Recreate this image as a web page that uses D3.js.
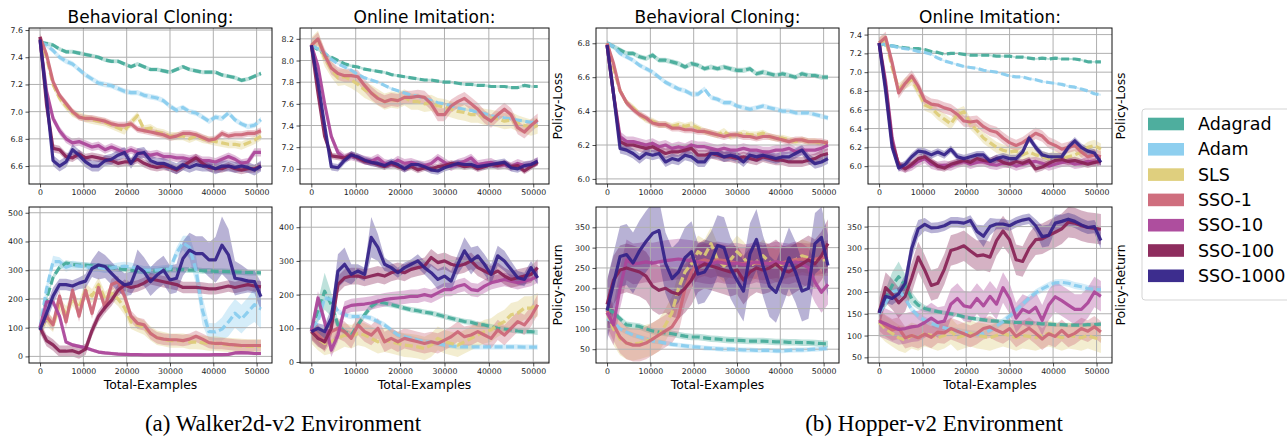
<!DOCTYPE html>
<html>
<head>
<meta charset="utf-8">
<script src="https://cdn.jsdelivr.net/npm/d3@7"></script>
<style>
  body { margin: 0; background: #fff; }
  svg { display: block; font-family: "DejaVu Sans", sans-serif; }
</style>
</head>
<body>
<svg id="chart" width="1287" height="437"></svg>
<script>
// ---- shared categories ----
const examples = [0, 1500, 3000, 4500, 6000, 7500, 9000, 10500, 12000, 13500, 15000, 16500, 18000, 19500, 21000, 22500, 24000, 25500, 27000, 28500, 30000, 31500, 33000, 34500, 36000, 37500, 39000, 40500, 42000, 43500, 45000, 46500, 48000, 49500, 51000];
const methods = ["Adagrad", "Adam", "SLS", "SSO-1", "SSO-10", "SSO-100", "SSO-1000"];
const methodColors = ["#44AA99", "#88CCEE", "#DDCC77", "#CC6677", "#AA4499", "#882255", "#332288"];
const methodDashed = [true, true, true, false, false, false, false];

const xTicks = [0, 10000, 20000, 30000, 40000, 50000];

// ---- Walker2d: behavioral cloning, policy loss (order follows `methods`) ----
const walkerBcLoss = [
  [7.51, 7.50, 7.49, 7.46, 7.44, 7.44, 7.43, 7.42, 7.41, 7.40, 7.38, 7.37, 7.37, 7.35, 7.33, 7.35, 7.33, 7.31, 7.31, 7.30, 7.29, 7.31, 7.33, 7.31, 7.30, 7.29, 7.29, 7.29, 7.27, 7.26, 7.25, 7.23, 7.24, 7.26, 7.28],
  [7.51, 7.49, 7.45, 7.40, 7.37, 7.35, 7.31, 7.27, 7.24, 7.21, 7.20, 7.19, 7.17, 7.15, 7.14, 7.14, 7.12, 7.11, 7.10, 7.08, 7.04, 7.01, 7.03, 7.00, 6.99, 6.96, 6.93, 6.96, 6.95, 6.99, 6.94, 6.91, 6.89, 6.90, 6.94],
  [7.53, 7.40, 7.20, 7.10, 7.04, 6.99, 6.97, 6.95, 6.94, 6.93, 6.92, 6.90, 6.88, 6.86, 6.92, 6.97, 6.87, 6.88, 6.85, 6.84, 6.82, 6.82, 6.82, 6.80, 6.82, 6.80, 6.79, 6.78, 6.77, 6.76, 6.76, 6.75, 6.77, 6.79, 6.82],
  [7.55, 7.42, 7.22, 7.12, 7.06, 7.00, 6.96, 6.95, 6.95, 6.94, 6.93, 6.91, 6.90, 6.90, 6.91, 6.87, 6.86, 6.85, 6.84, 6.83, 6.81, 6.82, 6.84, 6.84, 6.83, 6.81, 6.79, 6.80, 6.84, 6.82, 6.83, 6.83, 6.84, 6.84, 6.86],
  [7.52, 7.15, 6.95, 6.86, 6.80, 6.77, 6.78, 6.76, 6.74, 6.75, 6.72, 6.74, 6.72, 6.70, 6.72, 6.70, 6.69, 6.68, 6.69, 6.67, 6.67, 6.66, 6.66, 6.65, 6.66, 6.64, 6.64, 6.63, 6.65, 6.67, 6.65, 6.62, 6.63, 6.70, 6.70],
  [7.55, 7.05, 6.73, 6.72, 6.67, 6.66, 6.69, 6.66, 6.67, 6.66, 6.65, 6.64, 6.62, 6.63, 6.63, 6.65, 6.62, 6.60, 6.59, 6.60, 6.59, 6.57, 6.60, 6.63, 6.66, 6.62, 6.59, 6.58, 6.58, 6.60, 6.58, 6.57, 6.58, 6.58, 6.60],
  [7.53, 7.10, 6.64, 6.60, 6.63, 6.72, 6.68, 6.63, 6.60, 6.60, 6.64, 6.65, 6.68, 6.70, 6.62, 6.69, 6.70, 6.64, 6.62, 6.62, 6.60, 6.58, 6.61, 6.59, 6.61, 6.60, 6.60, 6.58, 6.60, 6.60, 6.59, 6.60, 6.59, 6.57, 6.60]
];
const walkerBcLossSpread = [0.015, 0.02, 0.03, 0.025, 0.03, 0.03, 0.04];
const walkerBcLossTicks = [6.6, 6.8, 7.0, 7.2, 7.4, 7.6];

// ---- Walker2d: online imitation, policy loss ----
const walkerOnlineLoss = [
  [8.14, 8.10, 8.06, 8.03, 8.00, 7.97, 7.95, 7.94, 7.92, 7.91, 7.90, 7.89, 7.87, 7.86, 7.85, 7.84, 7.83, 7.82, 7.82, 7.81, 7.80, 7.80, 7.79, 7.78, 7.78, 7.77, 7.77, 7.76, 7.76, 7.76, 7.75, 7.75, 7.77, 7.76, 7.76],
  [8.14, 8.11, 8.07, 8.01, 7.97, 7.94, 7.91, 7.87, 7.84, 7.82, 7.80, 7.77, 7.74, 7.72, 7.70, 7.68, 7.67, 7.65, 7.63, 7.61, 7.60, 7.58, 7.56, 7.55, 7.54, 7.52, 7.51, 7.49, 7.48, 7.47, 7.46, 7.45, 7.44, 7.43, 7.43],
  [8.14, 8.20, 8.02, 7.92, 7.84, 7.85, 7.82, 7.78, 7.73, 7.70, 7.66, 7.62, 7.64, 7.63, 7.66, 7.62, 7.62, 7.60, 7.61, 7.58, 7.57, 7.55, 7.53, 7.52, 7.50, 7.50, 7.48, 7.47, 7.46, 7.44, 7.45, 7.42, 7.40, 7.38, 7.40],
  [8.14, 8.20, 8.05, 7.93, 7.88, 7.86, 7.86, 7.85, 7.77, 7.70, 7.65, 7.62, 7.64, 7.63, 7.66, 7.66, 7.67, 7.66, 7.60, 7.50, 7.50, 7.58, 7.62, 7.65, 7.60, 7.55, 7.48, 7.44, 7.50, 7.55, 7.50, 7.38, 7.34, 7.40, 7.45],
  [8.14, 7.95, 7.60, 7.30, 7.15, 7.10, 7.12, 7.10, 7.08, 7.07, 7.10, 7.05, 7.04, 7.08, 7.05, 7.06, 7.04, 7.03, 7.05, 7.10, 7.06, 7.02, 7.05, 7.07, 7.10, 7.04, 7.05, 7.06, 7.03, 7.04, 7.02, 7.05, 7.03, 7.04, 7.07],
  [8.14, 7.70, 7.30, 7.12, 7.11, 7.10, 7.13, 7.10, 7.07, 7.06, 7.04, 7.02, 7.05, 7.02, 7.00, 7.02, 6.99, 7.01, 7.00, 7.02, 7.03, 7.05, 7.04, 7.02, 7.03, 7.00, 7.02, 7.04, 7.03, 7.05, 7.02, 7.03, 6.98, 7.02, 7.06],
  [8.14, 7.80, 7.40, 7.02, 7.01, 7.08, 7.13, 7.11, 7.08, 7.06, 7.05, 7.03, 7.06, 7.04, 7.00, 7.04, 7.04, 7.02, 6.99, 6.98, 7.01, 7.03, 7.05, 7.04, 7.04, 7.02, 7.03, 7.04, 7.05, 7.06, 7.01, 7.00, 7.03, 7.04, 7.07]
];
const walkerOnlineLossSpread = [0.012, 0.012, 0.075, 0.06, 0.04, 0.03, 0.035];
const walkerOnlineLossTicks = [7.0, 7.2, 7.4, 7.6, 7.8, 8.0, 8.2];

// ---- Walker2d: behavioral cloning, policy return ----
const walkerBcReturn = [
  [95, 200, 275, 310, 325, 320, 318, 318, 315, 313, 312, 310, 305, 303, 300, 298, 297, 296, 298, 302, 302, 302, 302, 300, 300, 298, 298, 296, 296, 295, 294, 293, 292, 292, 291],
  [100, 235, 330, 330, 310, 318, 315, 312, 310, 310, 305, 308, 312, 314, 312, 305, 300, 300, 300, 302, 305, 360, 395, 380, 300, 160, 86, 85, 95, 120, 150, 130, 155, 180, 165],
  [95, 130, 110, 180, 150, 200, 170, 230, 210, 250, 200, 220, 200, 170, 120, 110, 100, 80, 65, 60, 55, 55, 55, 50, 50, 48, 45, 45, 42, 40, 38, 36, 35, 35, 35],
  [100, 140, 110, 210, 120, 230, 140, 230, 150, 240, 170, 250, 260, 210, 140, 115, 110, 80, 65, 60, 58, 58, 55, 60, 70, 60, 48, 45, 45, 42, 40, 38, 38, 38, 38],
  [100, 190, 190, 140, 50, 40, 35, 30, 22, 15, 12, 10, 8, 7, 6, 6, 5, 5, 5, 5, 5, 5, 5, 5, 5, 5, 5, 6, 6, 7, 12, 13, 12, 10, 10],
  [100, 55, 40, 18, 18, 20, 12, 25, 90, 140, 170, 195, 230, 248, 240, 245, 255, 270, 265, 260, 255, 250, 240, 240, 240, 238, 235, 235, 240, 245, 240, 245, 250, 245, 242],
  [92, 150, 210, 250, 250, 245, 255, 262, 306, 318, 313, 289, 266, 249, 254, 312, 295, 260, 283, 300, 266, 272, 341, 370, 358, 358, 336, 336, 387, 353, 272, 268, 262, 260, 208]
];
const walkerBcReturnSpread = [
  10,
  [10, 20, 20, 15, 15, 15, 15, 15, 15, 15, 15, 15, 15, 15, 15, 15, 15, 15, 15, 15, 15, 20, 25, 40, 50, 50, 30, 30, 40, 50, 50, 50, 50, 60, 70],
  25, 20, 6, 20,
  [20, 30, 30, 20, 20, 20, 20, 25, 30, 50, 40, 40, 40, 40, 40, 60, 50, 50, 50, 50, 50, 50, 60, 60, 60, 60, 60, 80, 100, 90, 60, 50, 40, 40, 50]
];
const walkerBcReturnTicks = [0, 100, 200, 300, 400, 500];

// ---- Walker2d: online imitation, policy return ----
const walkerOnlineReturn = [
  [100, 150, 210, 170, 110, 90, 80, 110, 140, 165, 178, 175, 170, 165, 160, 155, 152, 148, 145, 140, 135, 130, 125, 120, 118, 112, 110, 105, 100, 98, 95, 92, 90, 90, 88],
  [100, 120, 190, 185, 150, 140, 135, 135, 135, 130, 120, 110, 95, 80, 75, 70, 65, 60, 58, 55, 50, 48, 45, 45, 45, 45, 45, 45, 45, 45, 45, 45, 44, 44, 44],
  [90, 70, 55, 60, 70, 80, 75, 85, 80, 70, 60, 65, 60, 55, 50, 48, 45, 40, 50, 70, 60, 55, 50, 60, 70, 80, 90, 95, 110, 120, 140, 145, 160, 160, 170],
  [100, 80, 60, 90, 100, 90, 70, 110, 90, 80, 100, 60, 70, 60, 70, 65, 60, 55, 60, 55, 65, 75, 90, 75, 80, 90, 80, 70, 95, 80, 100, 120, 110, 135, 170],
  [90, 190, 120, 35, 80, 160, 168, 170, 172, 175, 180, 185, 188, 190, 192, 195, 195, 200, 195, 205, 215, 215, 225, 230, 215, 212, 225, 235, 240, 245, 240, 235, 240, 245, 255],
  [90, 70, 60, 100, 230, 250, 255, 255, 250, 255, 260, 255, 265, 270, 265, 275, 280, 285, 310, 295, 300, 290, 285, 290, 300, 280, 270, 260, 270, 255, 245, 250, 255, 260, 280],
  [90, 100, 90, 130, 270, 290, 260, 270, 260, 370, 340, 290, 280, 265, 280, 290, 300, 280, 265, 245, 255, 240, 290, 330, 300, 315, 290, 260, 315, 300, 275, 250, 245, 280, 250]
];
const walkerOnlineReturnSpread = [
  [5, 30, 55, 35, 15, 10, 10, 10, 10, 10, 10, 10, 8, 8, 8, 8, 8, 8, 8, 8, 8, 8, 8, 8, 8, 8, 8, 8, 8, 8, 8, 8, 8, 8, 8],
  8, 35, 30, 20, 25,
  [10, 15, 20, 30, 50, 50, 30, 20, 20, 60, 40, 20, 15, 15, 15, 15, 20, 20, 25, 30, 30, 30, 30, 40, 40, 30, 30, 30, 30, 30, 25, 20, 20, 20, 20]
];
const walkerOnlineReturnTicks = [0, 100, 200, 300, 400];

// ---- Hopper: behavioral cloning, policy loss ----
const hopperBcLoss = [
  [6.80, 6.78, 6.76, 6.74, 6.74, 6.72, 6.71, 6.73, 6.70, 6.70, 6.69, 6.68, 6.66, 6.68, 6.67, 6.65, 6.66, 6.65, 6.66, 6.65, 6.64, 6.64, 6.65, 6.62, 6.63, 6.62, 6.61, 6.62, 6.61, 6.60, 6.62, 6.61, 6.61, 6.60, 6.60],
  [6.80, 6.78, 6.74, 6.72, 6.70, 6.67, 6.65, 6.63, 6.60, 6.57, 6.55, 6.53, 6.52, 6.50, 6.50, 6.53, 6.48, 6.47, 6.45, 6.45, 6.43, 6.42, 6.41, 6.42, 6.43, 6.42, 6.41, 6.40, 6.40, 6.39, 6.39, 6.39, 6.38, 6.37, 6.36],
  [6.80, 6.65, 6.52, 6.45, 6.42, 6.38, 6.35, 6.34, 6.32, 6.32, 6.31, 6.32, 6.31, 6.32, 6.30, 6.28, 6.27, 6.26, 6.28, 6.25, 6.26, 6.27, 6.26, 6.26, 6.27, 6.25, 6.24, 6.24, 6.23, 6.22, 6.23, 6.22, 6.22, 6.21, 6.21],
  [6.80, 6.68, 6.52, 6.45, 6.41, 6.38, 6.36, 6.33, 6.32, 6.32, 6.30, 6.30, 6.29, 6.29, 6.28, 6.28, 6.27, 6.26, 6.25, 6.26, 6.26, 6.25, 6.25, 6.24, 6.25, 6.25, 6.24, 6.23, 6.22, 6.23, 6.23, 6.22, 6.22, 6.22, 6.21],
  [6.79, 6.50, 6.25, 6.22, 6.22, 6.21, 6.20, 6.21, 6.19, 6.20, 6.18, 6.19, 6.18, 6.20, 6.19, 6.19, 6.18, 6.17, 6.18, 6.17, 6.17, 6.18, 6.17, 6.17, 6.16, 6.16, 6.17, 6.17, 6.18, 6.16, 6.17, 6.17, 6.17, 6.18, 6.20],
  [6.79, 6.50, 6.22, 6.20, 6.20, 6.19, 6.18, 6.19, 6.17, 6.15, 6.16, 6.16, 6.17, 6.18, 6.14, 6.14, 6.15, 6.14, 6.13, 6.13, 6.12, 6.13, 6.12, 6.11, 6.13, 6.12, 6.11, 6.11, 6.10, 6.10, 6.10, 6.11, 6.12, 6.14, 6.15],
  [6.79, 6.50, 6.18, 6.17, 6.15, 6.12, 6.15, 6.14, 6.15, 6.10, 6.12, 6.11, 6.14, 6.13, 6.10, 6.10, 6.15, 6.15, 6.13, 6.14, 6.13, 6.10, 6.14, 6.13, 6.14, 6.13, 6.12, 6.13, 6.13, 6.15, 6.17, 6.12, 6.09, 6.10, 6.12]
];
const hopperBcLossSpread = [0.015, 0.015, 0.02, 0.02, 0.03, 0.03, 0.03];
const hopperBcLossTicks = [6.0, 6.2, 6.4, 6.6, 6.8];

// ---- Hopper: online imitation, policy loss ----
const hopperOnlineLoss = [
  [7.31, 7.29, 7.28, 7.27, 7.26, 7.25, 7.25, 7.24, 7.22, 7.21, 7.19, 7.20, 7.20, 7.19, 7.18, 7.18, 7.18, 7.18, 7.17, 7.17, 7.17, 7.16, 7.16, 7.15, 7.14, 7.15, 7.14, 7.15, 7.14, 7.14, 7.14, 7.13, 7.11, 7.11, 7.11],
  [7.31, 7.29, 7.28, 7.26, 7.25, 7.24, 7.22, 7.21, 7.19, 7.15, 7.12, 7.10, 7.08, 7.06, 7.05, 7.04, 7.02, 7.01, 7.00, 6.98, 6.96, 6.95, 6.95, 6.93, 6.92, 6.90, 6.89, 6.88, 6.87, 6.85, 6.84, 6.82, 6.80, 6.77, 6.76],
  [7.31, 7.35, 7.05, 6.82, 6.88, 6.92, 6.80, 6.65, 6.62, 6.55, 6.50, 6.45, 6.55, 6.58, 6.45, 6.38, 6.30, 6.25, 6.20, 6.17, 6.15, 6.16, 6.12, 6.15, 6.12, 6.10, 6.08, 6.10, 6.08, 6.10, 6.12, 6.15, 6.20, 6.22, 6.18],
  [7.31, 7.37, 7.10, 6.78, 6.88, 6.96, 6.85, 6.70, 6.66, 6.65, 6.62, 6.60, 6.55, 6.48, 6.47, 6.48, 6.42, 6.38, 6.36, 6.30, 6.25, 6.22, 6.25, 6.30, 6.35, 6.32, 6.25, 6.22, 6.18, 6.20, 6.22, 6.15, 6.10, 6.12, 6.10],
  [7.31, 6.90, 6.30, 6.00, 5.98, 6.00, 6.05, 6.08, 6.02, 6.00, 6.01, 6.00, 6.03, 6.05, 6.02, 6.04, 6.05, 6.02, 6.01, 6.03, 6.03, 6.00, 6.02, 6.04, 6.05, 6.03, 6.00, 6.02, 6.04, 6.05, 6.02, 6.03, 6.05, 6.04, 6.06],
  [7.31, 6.85, 6.25, 6.02, 5.97, 6.02, 6.08, 6.10, 6.05, 6.00, 5.98, 6.02, 6.04, 6.06, 6.04, 6.08, 6.06, 6.05, 6.08, 6.04, 6.02, 6.05, 6.03, 6.06, 5.97, 5.99, 6.03, 6.06, 6.07, 6.05, 6.06, 6.04, 6.02, 6.04, 6.05],
  [7.31, 6.80, 6.20, 5.98, 6.02, 6.10, 6.16, 6.15, 6.12, 6.15, 6.12, 6.18, 6.10, 6.08, 6.10, 6.12, 6.12, 6.05, 6.08, 6.10, 6.08, 6.08, 6.15, 6.30, 6.20, 6.12, 6.10, 6.10, 6.10, 6.20, 6.27, 6.20, 6.16, 6.14, 6.04]
];
const hopperOnlineLossSpread = [0.01, 0.01, 0.06, 0.06, 0.05, 0.04, 0.04];
const hopperOnlineLossTicks = [6.0, 6.2, 6.4, 6.6, 6.8, 7.0, 7.2, 7.4];

// ---- Hopper: behavioral cloning, policy return ----
const hopperBcReturn = [
  [150, 140, 125, 110, 108, 106, 100, 95, 92, 90, 88, 85, 82, 80, 80, 78, 76, 75, 73, 72, 72, 71, 70, 70, 70, 69, 68, 68, 67, 67, 66, 66, 65, 64, 63],
  [125, 118, 100, 92, 85, 80, 75, 70, 68, 65, 62, 60, 58, 56, 55, 53, 52, 51, 50, 50, 49, 48, 48, 47, 47, 47, 46, 46, 47, 48, 48, 49, 50, 51, 52],
  [140, 100, 75, 65, 62, 65, 70, 75, 85, 110, 140, 200, 240, 260, 290, 280, 310, 270, 255, 270, 290, 275, 255, 265, 280, 265, 255, 260, 265, 270, 280, 275, 270, 270, 270],
  [145, 110, 80, 65, 60, 60, 65, 75, 85, 95, 105, 130, 200, 240, 265, 270, 265, 270, 268, 265, 262, 260, 265, 262, 260, 262, 265, 262, 268, 270, 272, 270, 272, 275, 278],
  [140, 110, 200, 270, 260, 262, 265, 262, 265, 268, 270, 272, 270, 268, 265, 262, 260, 265, 262, 260, 262, 258, 260, 265, 262, 260, 265, 262, 260, 265, 260, 250, 215, 190, 210],
  [160, 220, 245, 250, 245, 240, 230, 205, 195, 200, 190, 185, 200, 220, 250, 260, 255, 250, 245, 240, 245, 220, 240, 250, 245, 250, 260, 245, 240, 250, 260, 270, 260, 280, 310],
  [145, 212, 278, 283, 262, 292, 315, 335, 342, 262, 224, 240, 275, 290, 235, 240, 265, 305, 300, 250, 220, 193, 285, 320, 255, 205, 190, 230, 275, 240, 193, 200, 310, 325, 256]
];
const hopperBcReturnSpread = [8, 6, 40, 40, 50, 60, 75];
const hopperBcReturnTicks = [50, 100, 150, 200, 250, 300, 350];

// ---- Hopper: online imitation, policy return ----
const hopperOnlineReturn = [
  [155, 185, 215, 235, 215, 185, 170, 162, 158, 155, 152, 150, 147, 143, 140, 138, 136, 134, 133, 132, 131, 130, 130, 129, 128, 127, 126, 125, 125, 124, 124, 124, 125, 125, 126],
  [150, 175, 200, 205, 185, 160, 145, 135, 128, 122, 118, 113, 110, 107, 104, 103, 105, 112, 122, 132, 145, 158, 172, 186, 198, 207, 215, 221, 222, 220, 215, 212, 208, 206, 205],
  [130, 115, 105, 95, 90, 100, 95, 105, 100, 95, 100, 110, 95, 100, 105, 100, 98, 95, 100, 105, 100, 95, 100, 98, 95, 100, 105, 100, 95, 100, 98, 95, 100, 95, 90],
  [136, 122, 113, 117, 95, 100, 95, 103, 96, 108, 106, 116, 110, 104, 98, 105, 116, 120, 112, 106, 116, 98, 108, 117, 105, 92, 104, 98, 112, 98, 105, 116, 110, 120, 108],
  [133, 127, 120, 114, 116, 120, 122, 130, 140, 130, 133, 172, 185, 168, 165, 185, 168, 190, 172, 210, 185, 140, 160, 153, 165, 135, 170, 189, 180, 170, 160, 160, 175, 200, 190],
  [152, 210, 195, 175, 190, 232, 280, 250, 215, 220, 252, 295, 300, 306, 294, 283, 285, 280, 318, 340, 320, 274, 270, 300, 320, 322, 330, 337, 345, 360, 358, 352, 348, 346, 344],
  [152, 190, 185, 196, 220, 300, 345, 355, 347, 348, 352, 360, 360, 358, 364, 339, 328, 350, 356, 356, 352, 360, 365, 368, 352, 327, 330, 358, 362, 367, 362, 354, 348, 350, 318]
];
const hopperOnlineReturnSpread = [
  [10, 20, 30, 35, 25, 15, 10, 8, 6, 5, 5, 5, 5, 5, 5, 5, 5, 5, 5, 5, 5, 5, 5, 5, 5, 5, 5, 5, 5, 5, 5, 5, 5, 5, 5],
  8, 30, 25, 35, 35,
  [10, 15, 15, 15, 20, 25, 20, 15, 12, 12, 12, 12, 12, 12, 12, 15, 25, 20, 12, 12, 12, 12, 12, 12, 15, 25, 25, 20, 15, 15, 15, 15, 15, 15, 20]
];
const hopperOnlineReturnTicks = [50, 100, 150, 200, 250, 300, 350];

// ---- layout ----
const svg = d3.select("#chart");
const xDomain = [-2550, 53550];
const topRow = { top: 28, bottom: 184 };
const bottomRow = { top: 207, bottom: 363 };
const colA = { left: 29, right: 272 };
const colB = { left: 300, right: 549 };
const colC = { left: 596, right: 839 };
const colD = { left: 868, right: 1112 };

const panels = [
  { id: "p1", col: colA, row: topRow, yDomain: [6.468, 7.615], means: walkerBcLoss, spreads: walkerBcLossSpread, ticks: walkerBcLossTicks, fmt: d3.format(".1f"), title: "Behavioral Cloning:" },
  { id: "p2", col: colB, row: topRow, yDomain: [6.86, 8.30], means: walkerOnlineLoss, spreads: walkerOnlineLossSpread, ticks: walkerOnlineLossTicks, fmt: d3.format(".1f"), title: "Online Imitation:", ylabel: "Policy-Loss" },
  { id: "p3", col: colA, row: bottomRow, yDomain: [-23, 520], means: walkerBcReturn, spreads: walkerBcReturnSpread, ticks: walkerBcReturnTicks, fmt: d3.format("d"), xlabel: "Total-Examples" },
  { id: "p4", col: colB, row: bottomRow, yDomain: [-3, 460], means: walkerOnlineReturn, spreads: walkerOnlineReturnSpread, ticks: walkerOnlineReturnTicks, fmt: d3.format("d"), xlabel: "Total-Examples", ylabel: "Policy-Return" },
  { id: "p5", col: colC, row: topRow, yDomain: [5.97, 6.89], means: hopperBcLoss, spreads: hopperBcLossSpread, ticks: hopperBcLossTicks, fmt: d3.format(".1f"), title: "Behavioral Cloning:" },
  { id: "p6", col: colD, row: topRow, yDomain: [5.81, 7.47], means: hopperOnlineLoss, spreads: hopperOnlineLossSpread, ticks: hopperOnlineLossTicks, fmt: d3.format(".1f"), title: "Online Imitation:", ylabel: "Policy-Loss" },
  { id: "p7", col: colC, row: bottomRow, yDomain: [16, 400], means: hopperBcReturn, spreads: hopperBcReturnSpread, ticks: hopperBcReturnTicks, fmt: d3.format("d"), xlabel: "Total-Examples" },
  { id: "p8", col: colD, row: bottomRow, yDomain: [37, 395], means: hopperOnlineReturn, spreads: hopperOnlineReturnSpread, ticks: hopperOnlineReturnTicks, fmt: d3.format("d"), xlabel: "Total-Examples", ylabel: "Policy-Return" }
];

const defs = svg.append("defs");

function drawPanel(p) {
  const { left, right } = p.col;
  const { top, bottom } = p.row;
  const x = d3.scaleLinear().domain(xDomain).range([left, right]);
  const y = d3.scaleLinear().domain(p.yDomain).range([bottom, top]);
  const g = svg.append("g").attr("class", "panel");

  defs.append("clipPath").attr("id", "clip-" + p.id)
    .append("rect").attr("x", left).attr("y", top)
    .attr("width", right - left).attr("height", bottom - top);

  const spreadAt = (s, j) => Array.isArray(s) ? s[j] : s;

  // shaded bands (drawn beneath the grid, as in matplotlib)
  const bands = g.append("g").attr("clip-path", `url(#clip-${p.id})`);
  p.means.forEach((m, i) => {
    const s = p.spreads[i];
    const area = d3.area()
      .x((d, j) => x(examples[j]))
      .y0((d, j) => y(d - spreadAt(s, j)))
      .y1((d, j) => y(d + spreadAt(s, j)));
    bands.append("path").datum(m).attr("d", area)
      .attr("fill", methodColors[i]).attr("fill-opacity", 0.35).attr("stroke", "none");
  });

  // grid
  const grid = g.append("g");
  xTicks.forEach(t => grid.append("line")
    .attr("x1", x(t)).attr("x2", x(t)).attr("y1", top).attr("y2", bottom)
    .attr("stroke", "#b0b0b0").attr("stroke-width", 1));
  p.ticks.forEach(t => grid.append("line")
    .attr("x1", left).attr("x2", right).attr("y1", y(t)).attr("y2", y(t))
    .attr("stroke", "#b0b0b0").attr("stroke-width", 1));

  // mean curves
  const lines = g.append("g").attr("clip-path", `url(#clip-${p.id})`);
  p.means.forEach((m, i) => {
    const line = d3.line().x((d, j) => x(examples[j])).y(d => y(d));
    lines.append("path").datum(m).attr("d", line)
      .attr("fill", "none").attr("stroke", methodColors[i])
      .attr("stroke-width", 3.2).attr("stroke-opacity", 0.92)
      .attr("stroke-linejoin", "round")
      .attr("stroke-dasharray", methodDashed[i] ? "8,3.5" : null);
  });

  // axes
  const xAxis = d3.axisBottom(x).tickValues(xTicks).tickSize(3.5).tickPadding(2).tickFormat(d3.format("d"));
  const yAxis = d3.axisLeft(y).tickValues(p.ticks).tickSize(3.5).tickPadding(2.5).tickFormat(p.fmt);
  const gx = g.append("g").attr("transform", `translate(0,${bottom})`).call(xAxis);
  const gy = g.append("g").attr("transform", `translate(${left},0)`).call(yAxis);
  [gx, gy].forEach(a => {
    a.select(".domain").remove();
    a.selectAll(".tick line").attr("stroke", "#222").attr("stroke-width", 0.8);
    a.selectAll(".tick text").attr("fill", "#222").style("font-size", "7.8px")
      .style("font-family", "'DejaVu Sans', sans-serif");
  });

  // frame
  g.append("rect").attr("x", left).attr("y", top)
    .attr("width", right - left).attr("height", bottom - top)
    .attr("fill", "none").attr("stroke", "#111").attr("stroke-width", 1);

  if (p.title) {
    g.append("text").attr("x", (left + right) / 2).attr("y", 23)
      .attr("text-anchor", "middle").style("font-size", "17px").attr("fill", "#000")
      .text(p.title);
  }
  if (p.xlabel) {
    g.append("text").attr("x", (left + right) / 2).attr("y", 389)
      .attr("text-anchor", "middle").style("font-size", "12.4px").attr("fill", "#000")
      .text(p.xlabel);
  }
  if (p.ylabel) {
    const cx = right + 8.5, cy = (top + bottom) / 2;
    g.append("text").attr("transform", `translate(${cx},${cy}) rotate(-90)`)
      .attr("text-anchor", "middle").attr("dominant-baseline", "central")
      .style("font-size", "12.4px").attr("fill", "#000")
      .text(p.ylabel);
  }
}

panels.forEach(drawPanel);

// legend
const legend = svg.append("g");
legend.append("rect").attr("x", 1142).attr("y", 109).attr("width", 170).attr("height", 191)
  .attr("rx", 3).attr("fill", "#fff").attr("stroke", "#d5d5d5").attr("stroke-width", 1);
methods.forEach((name, i) => {
  const cy = 124 + i * 25.3;
  legend.append("rect").attr("x", 1148).attr("y", cy - 6.3).attr("width", 36).attr("height", 12.6)
    .attr("fill", methodColors[i]).attr("fill-opacity", 0.95);
  legend.append("text").attr("x", 1198).attr("y", cy).attr("dominant-baseline", "central")
    .style("font-size", "17.5px").attr("fill", "#000").text(name);
});

// sub-figure captions
const captions = [
  { text: "(a) Walker2d-v2 Environment", x: 283 },
  { text: "(b) Hopper-v2 Environment", x: 934 }
];
captions.forEach(c => svg.append("text").attr("x", c.x).attr("y", 431)
  .attr("text-anchor", "middle")
  .style("font-family", "'Liberation Serif', 'Times New Roman', serif")
  .style("font-size", "23px").attr("fill", "#000").text(c.text));
</script>
</body>
</html>
